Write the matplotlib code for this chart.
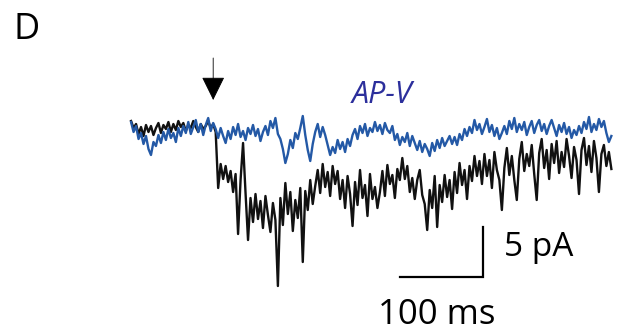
import matplotlib
matplotlib.use('Agg')
import matplotlib.pyplot as plt
import numpy as np

# sampling step of the traces (ms)
dt = 3

# AP-V trace (blue), pA relative to baseline
blue_pa = [
    0.8, -0.2, 0.4, -0.9, -0.3, -1.4, -0.6, -1.9, -2.5, -1.2,
    -1.6, -0.5, -1.3, -0.2, -1.0, 0.1, -0.8, -0.3, -1.2, 0.2,
    -0.6, 0.4, -0.3, 0.8, -0.4, 0.3, 1.0, -0.2, 0.6, -0.5,
    0.5, 1.2, -0.1, 0.7, 0.1, -0.8, 0.2, -0.6, -1.3, -0.1,
    -0.9, 0.3, -0.5, 0.6, -0.7, -0.1, -1.0, 0.2, -0.4, 0.5,
    -0.6, 0.1, -1.1, -0.2, 0.4, -0.5, 0.9, 0.2, 1.2, -0.4,
    -0.9, -1.9, -3.3, -2.4, -1.0, -1.8, -0.3, -0.9, 0.2, 1.4,
    -0.5, -2.0, -3.1, -1.4, -0.2, 0.6, -0.7, 0.3, -0.5, -1.5,
    -2.5, -1.7, -2.3, -1.0, -1.9, -1.2, -2.2, -0.9, -1.6, -0.5,
    0.1, -0.9, 0.4, -0.3, 0.6, -0.6, 0.2, -0.2, 0.8, -0.1,
    0.5, -0.4, 0.7, 0.0, -0.3, 0.4, -1.0, -0.4, -1.5, -0.7,
    -1.2, -0.3, -1.6, -0.6, -1.3, -2.0, -1.1, -2.2, -1.4, -1.9,
    -2.6, -1.3, -2.1, -1.0, -1.8, -0.8, -1.6, -1.1, -0.6, -1.4,
    -0.7, -1.5, -0.4, -1.0, 0.1, -0.6, 0.3, -0.3, 1.0, 0.0,
    0.6, -0.4, 0.3, 1.1, -0.2, 0.5, -0.6, 0.2, -0.9, -0.3,
    0.4, -0.4, 0.9, 0.1, 1.2, -0.2, 0.6, 0.0, 0.8, -0.5,
    0.3, 0.9, -0.3, 0.5, 1.0, -0.1, 0.6, -0.4, 0.4, 1.0,
    0.2, -0.6, 0.5, -0.2, 0.7, -0.4, 0.3, -0.8, 0.0, -0.5,
    0.4, -0.3, 0.8, 0.1, 1.3, -0.2, 0.6, 0.0, 1.1, 0.3,
    0.9, -0.3, -1.2, -0.6,
]

# control trace (black), pA relative to baseline
black_pa = [
    0.9, 0.2, 0.6, -0.4, 0.3, -0.6, 0.5, -0.2, 0.4, -0.5,
    0.2, 0.7, -0.3, 0.5, 0.1, 0.8, -0.2, 0.6, 0.0, 0.9,
    0.3, 0.7, -0.1, 0.5, 0.2, 0.9, 0.3, -0.2, 0.6, 0.1,
    0.4, 0.9, 0.2, 0.6, -0.2, -5.8, -3.4, -4.9, -3.6, -5.2,
    -4.1, -6.2, -4.4, -10.4, -5.0, -1.3, -6.3, -11.0, -6.8, -9.2,
    -6.4, -8.9, -7.1, -9.8, -6.6, -8.5, -10.2, -7.3, -9.0, -15.6,
    -6.8, -9.5, -5.3, -8.4, -6.2, -10.1, -7.0, -8.8, -5.8, -13.2,
    -6.1, -8.0, -5.0, -7.4, -5.6, -4.0, -6.3, -3.4, -5.7, -4.2,
    -6.6, -3.6, -5.4, -4.1, -6.9, -5.0, -7.8, -4.6, -6.4, -9.6,
    -5.2, -7.5, -4.0, -6.8, -5.5, -8.6, -4.4, -6.9, -5.7, -7.8,
    -6.2, -4.1, -6.6, -3.5, -5.4, -4.5, -6.8, -3.9, -5.0, -2.8,
    -4.9, -3.6, -6.2, -4.8, -6.9, -5.0, -4.0, -6.5, -7.4, -10.0,
    -6.0, -7.8, -4.6, -9.7, -5.5, -7.2, -4.5, -6.7, -5.0, -7.9,
    -4.2, -6.3, -3.3, -5.5, -4.0, -6.9, -3.6, -5.1, -2.6, -4.6,
    -3.1, -5.4, -2.4, -4.6, -3.0, -5.8, -2.2, -4.0, -5.0, -8.0,
    -3.8, -1.8, -4.5, -2.6, -5.0, -7.0, -2.9, -1.2, -4.1, -2.4,
    -3.6, -1.5, -4.4, -7.0, -2.3, -0.9, -3.8, -2.0, -4.9, -1.4,
    -3.3, -1.1, -4.3, -2.2, -3.7, -0.9, -2.6, -4.8, -1.7, -3.0,
    -6.4, -2.0, -0.8, -3.5, -1.6, -4.2, -1.1, -2.8, -6.2, -2.4,
    -1.5, -3.6, -2.2, -3.9,
]

stim_ms = 99          # arrow (stimulus) time
bar_ms, bar_pa = 100, 5

t = np.arange(len(black_pa)) * dt

fig = plt.figure(figsize=(6.18, 3.35), dpi=100)
ax = fig.add_axes([0, 0, 1, 1])
ax.set_xlim(-158, 587)
ax.set_ylim(-20.5, 13)
ax.axis('off')

ax.plot(t, black_pa, color='#111111', lw=1.7)
ax.plot(t, blue_pa, color='#2459a6', lw=1.7)

# stimulus arrow
ax.annotate('', xy=(stim_ms, 3.0), xytext=(stim_ms, 7.2),
            arrowprops=dict(arrowstyle='-|>,head_length=0.75,head_width=0.37',
                            mutation_scale=20, lw=0.6, color='black',
                            shrinkA=0, shrinkB=0))

# scale bar
x0, y0 = 424, -14.7
ax.plot([x0 - bar_ms, x0, x0], [y0, y0, y0 + bar_pa], color='black', lw=1.6,
        solid_joinstyle='miter')
ax.text(x0 + 26, y0 + bar_pa / 2 + 0.4, '5 pA', fontsize=24, family='Open Sans',
        va='center', ha='left')
ax.text(x0 - bar_ms / 2 - 6, y0 - 3.8, '100 ms', fontsize=25, family='Open Sans',
        va='center', ha='center')

ax.text(303, 3.5, 'AP-V', fontsize=22, family='Open Sans', style='italic',
        color='#2c2f9c', va='center', ha='center')
ax.text(0.022, 0.91, 'D', transform=fig.transFigure, fontsize=26,
        family='Open Sans', va='center', ha='left')

fig.savefig('out.png', dpi=100)
